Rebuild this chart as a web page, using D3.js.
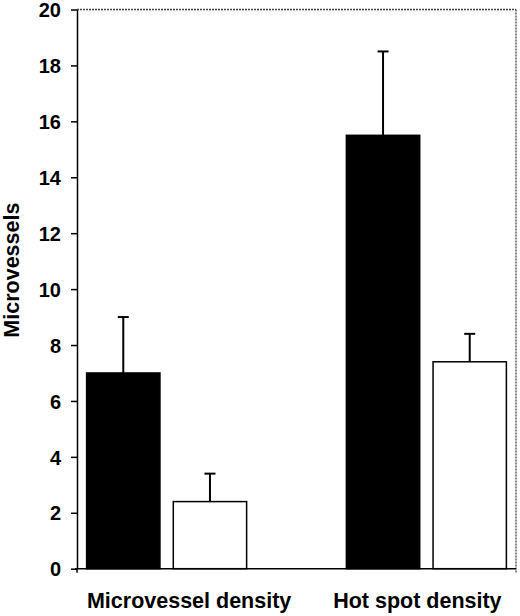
<!DOCTYPE html>
<html>
<head>
<meta charset="utf-8">
<script src="https://cdn.jsdelivr.net/npm/d3@7"></script>
<style>
html,body{margin:0;padding:0;background:#fff;}
svg{display:block;}
text{font-family:"Liberation Sans",Arial,Helvetica,sans-serif;font-weight:bold;fill:#000;}
</style>
</head>
<body>
<svg id="chart" width="520" height="616"></svg>
<script>
// ---- data ----
const categories = ["Microvessel density", "Hot spot density"];
const seriesNames = ["Group 1", "Group 2"];
const group1Values = [7.0, 15.5];   // black bars
const group1Errors = [2.0, 3.0];
const group2Values = [2.4, 7.4];    // white bars
const group2Errors = [1.0, 1.0];
const yTicks = [0, 2, 4, 6, 8, 10, 12, 14, 16, 18, 20];
const yTitle = "Microvessels";

// ---- layout ----
const svg = d3.select("#chart");
const mLeft = 77, mRight = 516, mTop = 9.5, mBottom = 568.7;

const y = d3.scaleLinear().domain([0, 20]).range([mBottom, mTop]);
const x = d3.scaleBand().domain(categories).range([mLeft, mRight])
  .paddingInner(0.384).paddingOuter(0.037);
const xs = d3.scaleBand().domain(seriesNames).range([0, x.bandwidth()])
  .paddingInner(0.154).paddingOuter(0);

const fills = {"Group 1": "#000", "Group 2": "#fff"};
const rows = [];
categories.forEach((c, i) => {
  rows.push({cat: c, s: "Group 1", v: group1Values[i], e: group1Errors[i]});
  rows.push({cat: c, s: "Group 2", v: group2Values[i], e: group2Errors[i]});
});

// plot frame (dotted top & right)
svg.append("line").attr("x1", mLeft).attr("x2", mRight).attr("y1", mTop).attr("y2", mTop)
  .attr("stroke", "#444").attr("stroke-width", 1.3).attr("stroke-dasharray", "2,1");
svg.append("line").attr("x1", mRight).attr("x2", mRight).attr("y1", mTop).attr("y2", mBottom + 4)
  .attr("stroke", "#444").attr("stroke-width", 1.3).attr("stroke-dasharray", "2,1");

// bars
const bx = d => x(d.cat) + xs(d.s);
svg.append("g").selectAll("rect").data(rows).join("rect")
  .attr("x", bx)
  .attr("y", d => y(d.v))
  .attr("width", xs.bandwidth())
  .attr("height", d => y(0) - y(d.v))
  .attr("fill", d => fills[d.s])
  .attr("stroke", "#000").attr("stroke-width", 1.5);

// error bars
const eg = svg.append("g").attr("stroke", "#000").attr("stroke-width", 2);
eg.selectAll("line.v").data(rows).join("line").attr("class", "v")
  .attr("x1", d => bx(d) + xs.bandwidth() / 2)
  .attr("x2", d => bx(d) + xs.bandwidth() / 2)
  .attr("y1", d => y(d.v))
  .attr("y2", d => y(d.v + d.e));
eg.selectAll("line.c").data(rows).join("line").attr("class", "c")
  .attr("x1", d => bx(d) + xs.bandwidth() / 2 - 5.5)
  .attr("x2", d => bx(d) + xs.bandwidth() / 2 + 5.5)
  .attr("y1", d => y(d.v + d.e))
  .attr("y2", d => y(d.v + d.e));

// x axis line
svg.append("line").attr("x1", mLeft - 2).attr("x2", mRight).attr("y1", mBottom).attr("y2", mBottom)
  .attr("stroke", "#000").attr("stroke-width", 1.5);
svg.append("line").attr("x1", mLeft).attr("x2", mLeft).attr("y1", mBottom).attr("y2", mBottom + 4)
  .attr("stroke", "#000").attr("stroke-width", 1.5);

// y axis
const ya = svg.append("g").attr("transform", `translate(${mLeft},0)`)
  .call(d3.axisLeft(y).tickValues(yTicks).tickSize(6).tickSizeOuter(0).tickPadding(10));
ya.select(".domain").attr("stroke", "#000").attr("stroke-width", 1.5);
ya.selectAll(".tick line").attr("stroke", "#000").attr("stroke-width", 1.5);
ya.selectAll(".tick text")
  .style("font-size", "20px")
  .style("font-family", '"Liberation Sans",Arial,sans-serif')
  .style("font-weight", "bold")
  .attr("fill", "#000")
  .attr("dy", "0.36em");

// category labels
const labelDx = [22.5, -9];
svg.append("g").selectAll("text").data(categories).join("text")
  .attr("x", (d, i) => x(d) + x.bandwidth() / 2 + labelDx[i])
  .attr("y", 608)
  .attr("text-anchor", "middle")
  .style("font-size", "21.5px")
  .text(d => d);

// y title
svg.append("text")
  .attr("transform", `translate(19,${(mTop + mBottom) / 2 - 19}) rotate(-90)`)
  .attr("text-anchor", "middle")
  .style("font-size", "21.5px")
  .text(yTitle);
</script>
</body>
</html>
